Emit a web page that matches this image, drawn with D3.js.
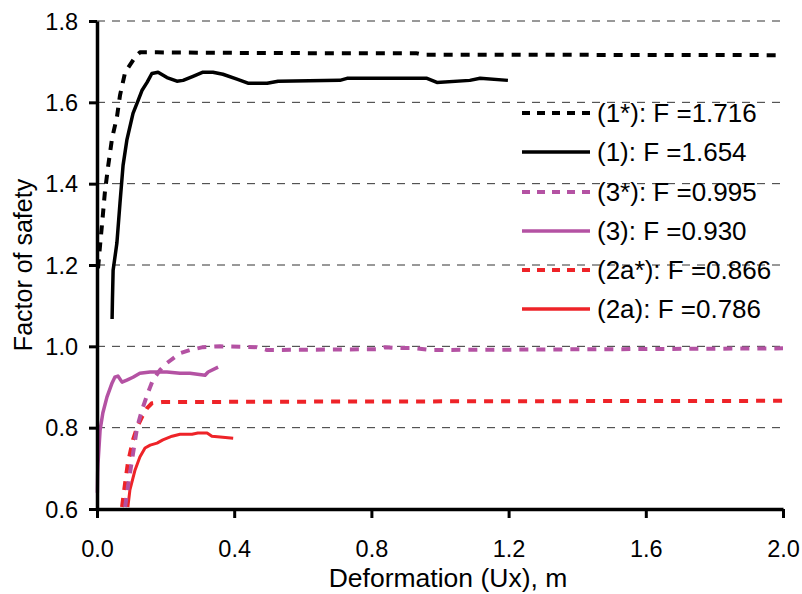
<!DOCTYPE html>
<html>
<head>
<meta charset="utf-8">
<script src="https://cdn.jsdelivr.net/npm/d3@7"></script>
<style>
  html, body { margin: 0; padding: 0; background: #fff; }
  svg { display: block; font-family: "Liberation Sans", Arial, sans-serif; }
</style>
</head>
<body>
<svg id="chart" width="802" height="594"></svg>
<script>
// ---- Data (deformation Ux [m], factor of safety F) ----
const xTicks = [0.0, 0.4, 0.8, 1.2, 1.6, 2.0];
const yTicks = [0.6, 0.8, 1.0, 1.2, 1.4, 1.6, 1.8];

const s1star = [
  [0.003,1.192],[0.009,1.249],[0.015,1.303],[0.023,1.379],[0.032,1.440],[0.044,1.512],
  [0.058,1.563],[0.067,1.617],[0.082,1.674],[0.111,1.711],[0.125,1.723],[0.175,1.723],
  [0.30,1.722],[0.60,1.721],[0.93,1.721],[0.95,1.717],[1.20,1.717],[2.00,1.716]
];
const s1 = [
  [0.044,1.067],[0.045,1.114],[0.047,1.187],[0.058,1.254],[0.067,1.352],[0.076,1.445],
  [0.087,1.507],[0.105,1.573],[0.120,1.605],[0.131,1.629],[0.146,1.649],[0.160,1.671],
  [0.178,1.674],[0.204,1.661],[0.233,1.652],[0.251,1.654],[0.280,1.664],[0.309,1.674],
  [0.338,1.674],[0.367,1.669],[0.408,1.657],[0.440,1.647],[0.496,1.647],[0.528,1.652],
  [0.708,1.654],[0.729,1.659],[0.962,1.659],[0.991,1.649],[1.087,1.654],[1.117,1.659],
  [1.198,1.654]
];
const s3star = [
  [0.082,0.605],[0.090,0.654],[0.102,0.720],[0.117,0.801],[0.131,0.843],[0.149,0.887],
  [0.163,0.917],[0.184,0.942],[0.204,0.959],[0.242,0.983],[0.271,0.991],[0.309,0.998],
  [0.359,1.000],[0.466,0.998],[0.496,0.991],[0.825,0.993],[0.840,0.998],[0.869,0.996],
  [0.921,0.996],[0.971,0.991],[1.50,0.993],[2.00,0.995]
];
const s3 = [
  [0.001,0.640],[0.002,0.690],[0.003,0.713],[0.009,0.794],[0.017,0.836],[0.029,0.875],[0.044,0.910],
  [0.052,0.924],[0.061,0.927],[0.073,0.912],[0.087,0.917],[0.105,0.924],[0.125,0.934],
  [0.155,0.937],[0.204,0.937],[0.242,0.934],[0.271,0.934],[0.315,0.929],[0.324,0.937],
  [0.353,0.949]
];
const s2astar = [
  [0.073,0.605],[0.082,0.664],[0.090,0.713],[0.105,0.770],[0.117,0.801],[0.131,0.826],
  [0.146,0.848],[0.160,0.860],[0.190,0.863],[0.60,0.864],[1.20,0.865],[2.00,0.866]
];
const s2a = [
  [0.090,0.605],[0.096,0.647],[0.111,0.696],[0.125,0.728],[0.140,0.750],[0.155,0.757],
  [0.175,0.762],[0.192,0.770],[0.219,0.779],[0.242,0.784],[0.277,0.784],[0.294,0.787],
  [0.321,0.787],[0.335,0.779],[0.359,0.777],[0.397,0.774]
];

const seriesNames = ["(1*): F =1.716","(1): F =1.654","(3*): F =0.995","(3): F =0.930","(2a*): F =0.866","(2a): F =0.786"];
const seriesData = [s1star, s1, s3star, s3, s2astar, s2a];
const seriesColors = ["#000000","#000000","#b452a3","#b452a3","#ee2328","#ee2328"];
const seriesDashed = [true,false,true,false,true,false];
const seriesWidth = [4,3.5,4,3.5,4,3];

// ---- Layout ----
const svg = d3.select("#chart");
const mLeft = 97, mRight = 783, mTop = 21, mBottom = 509;
const x = d3.scaleLinear().domain([0, 2]).range([mLeft, mRight]);
const y = d3.scaleLinear().domain([0.6, 1.8]).range([mBottom, mTop]);

// gridlines
svg.append("g").selectAll("line")
  .data(yTicks.filter(v => v > 0.6))
  .join("line")
  .attr("x1", mLeft).attr("x2", mRight)
  .attr("y1", d => y(d)).attr("y2", d => y(d))
  .attr("stroke", "#333").attr("stroke-width", 1)
  .attr("stroke-dasharray", "8,7");

// series
const line = d3.line().x(d => x(d[0])).y(d => y(d[1]));
const order = [5,4,3,2,1,0];
order.forEach(i => {
  svg.append("path")
    .attr("d", line(seriesData[i]))
    .attr("fill", "none")
    .attr("stroke", seriesColors[i])
    .attr("stroke-width", seriesWidth[i])
    .attr("stroke-linejoin", "round")
    .attr("stroke-dasharray", seriesDashed[i] ? "9,8" : null);
});

// axes
const xAxis = d3.axisBottom(x).tickValues(xTicks).tickFormat(d3.format(".1f")).tickSize(9).tickSizeOuter(0);
const gx = svg.append("g").attr("transform", `translate(0,${mBottom})`).call(xAxis);
gx.select(".domain").attr("stroke", "#000").attr("stroke-width", 3.5);
gx.selectAll(".tick line").attr("stroke", "#000").attr("stroke-width", 3);
gx.selectAll(".tick text").attr("font-size", 23.5).attr("fill", "#000")
  .attr("font-family", "Liberation Sans, Arial, sans-serif").attr("dy", null).attr("y", 48);

const yAxis = d3.axisLeft(y).tickValues(yTicks).tickFormat(d3.format(".1f")).tickSize(8).tickSizeOuter(0);
const gy = svg.append("g").attr("transform", `translate(${mLeft},0)`).call(yAxis);
gy.select(".domain").attr("stroke", "#000").attr("stroke-width", 3.5);
gy.selectAll(".tick line").attr("stroke", "#000").attr("stroke-width", 3);
gy.selectAll(".tick text").attr("font-size", 23.5).attr("fill", "#000")
  .attr("font-family", "Liberation Sans, Arial, sans-serif").attr("x", -19).attr("dy", "0.35em");

// axis titles
svg.append("text")
  .attr("x", (mLeft + mRight) / 2 + 8).attr("y", 587)
  .attr("text-anchor", "middle").attr("font-size", 26.5).attr("fill", "#000")
  .text("Deformation (Ux), m");
svg.append("text")
  .attr("transform", `translate(32,${(mTop + mBottom) / 2}) rotate(-90)`)
  .attr("text-anchor", "middle").attr("font-size", 25).attr("fill", "#000")
  .text("Factor of safety");

// legend
const legendY = [113, 152, 192, 231, 270, 309];
const lg = svg.append("g");
seriesNames.forEach((name, i) => {
  lg.append("line")
    .attr("x1", 522).attr("x2", 590)
    .attr("y1", legendY[i]).attr("y2", legendY[i])
    .attr("stroke", seriesColors[i])
    .attr("stroke-width", seriesDashed[i] ? 4 : 3.5)
    .attr("stroke-dasharray", seriesDashed[i] ? "8,7" : null);
  lg.append("text")
    .attr("x", 597).attr("y", legendY[i]).attr("dy", "0.35em")
    .attr("font-size", 26).attr("fill", "#000")
    .text(name);
});
</script>
</body>
</html>
